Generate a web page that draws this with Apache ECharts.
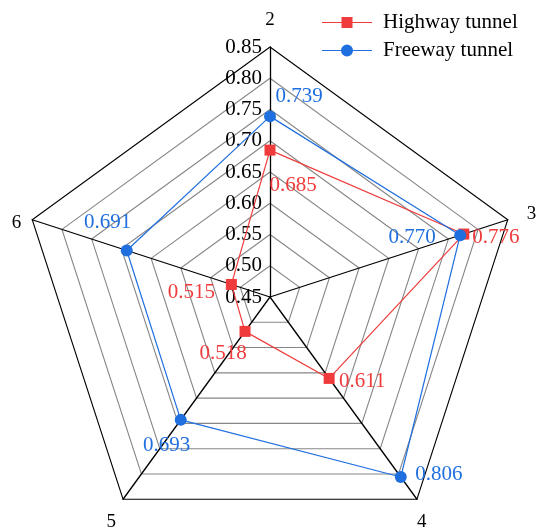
<!DOCTYPE html>
<html>
<head>
<meta charset="utf-8">
<script src="https://cdn.jsdelivr.net/npm/echarts@6/dist/echarts.min.js"></script>
<style>
  html, body { margin: 0; padding: 0; background: #fff; }
  #chart { width: 539px; height: 529px; }
</style>
</head>
<body>
<div id="chart"></div>
<script>
// Radar axes (clockwise from the top) and their common scale
const indicatorNames = ['2', '3', '4', '5', '6'];
const radarMin = 0.45;
const radarMax = 0.85;
const radarSplits = 8;

// Series values, one per axis
const seriesNames = ['Highway tunnel', 'Freeway tunnel'];
const highwayTunnel = [0.685, 0.776, 0.611, 0.518, 0.515];
const freewayTunnel = [0.739, 0.770, 0.806, 0.693, 0.691];

// ---- styling ----
const FONT = 'Liberation Serif';
const RED = '#ef3b3b';
const BLUE = '#1f6fdf';

// ECharts lays radar axes counter-clockwise, so feed them in reverse after the top one
const drawOrder = [0, 4, 3, 2, 1];

// value-label offsets (px from each marker), per axis
const highwayLabelOffsets = [[23, 35], [32, 3], [33, 3], [-22, 22], [-40, 8]];
const freewayLabelOffsets = [[29, -20], [-48, 2], [38, -3], [-14, 26], [-19, -28]];

// axis-name placement, per axis
const nameStyles = [
  { align: 'center', verticalAlign: 'bottom', padding: [0, 0, 17, 0] },
  { align: 'left', verticalAlign: 'bottom', lineHeight: 12, padding: [0, 0, 0, 19] },
  { align: 'left', verticalAlign: 'top', lineHeight: 46, padding: [0, 0, 0, 0] },
  { align: 'right', verticalAlign: 'top', lineHeight: 46, padding: [0, 7, 0, 0] },
  { align: 'right', verticalAlign: 'top', lineHeight: 6, padding: [0, 11, 0, 0] }
];

const indicators = drawOrder.map(i => {
  const ind = {
    name: indicatorNames[i],
    min: radarMin,
    max: radarMax,
    nameGap: 0,
    nameTextStyle: nameStyles[i]
  };
  if (i === 0) {
    ind.axisLabel = {
      show: true,
      color: '#000',
      fontSize: 21,
      fontFamily: FONT,
      margin: 8,
      formatter: v => Number(v).toFixed(2)
    };
  }
  return ind;
});

const splitColors = [];
for (let i = 0; i < radarSplits; i++) splitColors.push('#868686');
splitColors.push('#000');

// One visible polygon per series, plus label-only copies that each show one value
function buildSeries(name, values, color, symbol, size, offsets) {
  const ordered = drawOrder.map(i => values[i]);
  const data = [{
    name: name,
    value: ordered,
    symbol: symbol,
    symbolSize: size,
    itemStyle: { color: color },
    lineStyle: { color: color, width: 1.2 },
    label: { show: false }
  }];
  values.forEach((v, k) => {
    data.push({
      name: name + ' ' + indicatorNames[k],
      value: ordered,
      symbol: 'circle',
      symbolSize: 2,
      itemStyle: { color: 'rgba(0,0,0,0)' },
      lineStyle: { width: 0, opacity: 0 },
      label: {
        show: true,
        position: 'inside',
        offset: offsets[k],
        color: color,
        fontSize: 21,
        fontFamily: FONT,
        formatter: p => (Math.abs(p.value - v) < 1e-9 ? v.toFixed(3) : '')
      }
    });
  });
  return {
    type: 'radar',
    name: name,
    silent: true,
    animation: false,
    data: data
  };
}

const legendIconLine = 'path://M0,5.5H50V6.5H0Z M19.5,0.5H30.5V11.5H19.5Z';
const legendIconDot = 'path://M0,5.5H50V6.5H0Z M31,6A6,6 0 1 1 19,6A6,6 0 1 1 31,6Z';

const chart = echarts.init(document.getElementById('chart'), null, { renderer: 'canvas' });
chart.setOption({
  backgroundColor: '#fff',
  animation: false,
  color: [RED, BLUE],
  textStyle: { fontFamily: FONT },
  legend: {
    orient: 'vertical',
    left: 322,
    top: 12,
    padding: 0,
    itemWidth: 50,
    itemHeight: 12,
    itemGap: 7,
    itemStyle: { borderWidth: 0 },
    textStyle: { fontFamily: FONT, fontSize: 21, color: '#000', padding: [0, 0, 0, 6] },
    data: [
      { name: seriesNames[0], icon: legendIconLine, itemStyle: { color: RED } },
      { name: seriesNames[1], icon: legendIconDot, itemStyle: { color: BLUE } }
    ]
  },
  radar: {
    center: [270, 297],
    radius: 250,
    startAngle: 90,
    shape: 'polygon',
    splitNumber: radarSplits,
    axisName: { color: '#000', fontSize: 19, fontFamily: FONT },
    nameGap: 0,
    axisLine: { lineStyle: { color: '#000', width: 1.3 } },
    axisTick: { show: false },
    axisLabel: { show: false },
    splitLine: { lineStyle: { color: splitColors, width: 1.1 } },
    splitArea: { show: false },
    indicator: indicators
  },
  series: [
    buildSeries(seriesNames[0], highwayTunnel, RED, 'rect', 11, highwayLabelOffsets),
    buildSeries(seriesNames[1], freewayTunnel, BLUE, 'circle', 12, freewayLabelOffsets)
  ]
});
</script>
</body>
</html>
